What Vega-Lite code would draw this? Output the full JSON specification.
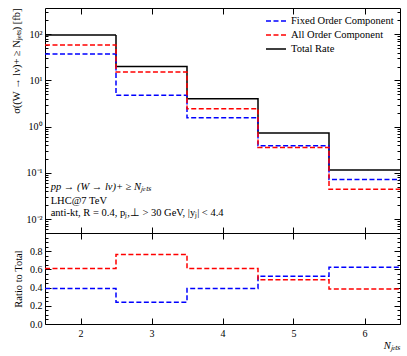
{
  "$schema": "https://vega.github.io/schema/vega-lite/v6.json",
  "padding": {"left": 10, "top": 7, "right": 7, "bottom": 5},
  "background": "white",
  "bounds": "flush",
  "config": {
    "font": "Liberation Serif",
    "view": {"stroke": "black", "strokeWidth": 1},
    "axis": {"domainColor": "black", "tickColor": "black", "labelColor": "black", "titleColor": "black", "labelFontSize": 10, "titleFontSize": 10.5, "titleFontWeight": "normal", "grid": false, "labelFont": "Liberation Serif", "titleFont": "Liberation Serif"},
    "legend": {"labelFont": "Liberation Serif", "labelFontSize": 10.5}
  },
  "datasets": {
    "hist": [
      {"series": "Total Rate", "bin": 2, "lo": 1.5, "hi": 2.5, "value": 96, "ratio": 1},
      {"series": "Total Rate", "bin": 3, "lo": 2.5, "hi": 3.5, "value": 20, "ratio": 1},
      {"series": "Total Rate", "bin": 4, "lo": 3.5, "hi": 4.5, "value": 4.0, "ratio": 1},
      {"series": "Total Rate", "bin": 5, "lo": 4.5, "hi": 5.5, "value": 0.73, "ratio": 1},
      {"series": "Total Rate", "bin": 6, "lo": 5.5, "hi": 6.5, "value": 0.115, "ratio": 1},
      {"series": "Fixed Order Component", "bin": 2, "lo": 1.5, "hi": 2.5, "value": 37.5, "ratio": 0.39},
      {"series": "Fixed Order Component", "bin": 3, "lo": 2.5, "hi": 3.5, "value": 4.8, "ratio": 0.24},
      {"series": "Fixed Order Component", "bin": 4, "lo": 3.5, "hi": 4.5, "value": 1.56, "ratio": 0.39},
      {"series": "Fixed Order Component", "bin": 5, "lo": 4.5, "hi": 5.5, "value": 0.385, "ratio": 0.525},
      {"series": "Fixed Order Component", "bin": 6, "lo": 5.5, "hi": 6.5, "value": 0.072, "ratio": 0.625},
      {"series": "All Order Component", "bin": 2, "lo": 1.5, "hi": 2.5, "value": 58.5, "ratio": 0.61},
      {"series": "All Order Component", "bin": 3, "lo": 2.5, "hi": 3.5, "value": 15.2, "ratio": 0.765},
      {"series": "All Order Component", "bin": 4, "lo": 3.5, "hi": 4.5, "value": 2.44, "ratio": 0.61},
      {"series": "All Order Component", "bin": 5, "lo": 4.5, "hi": 5.5, "value": 0.354, "ratio": 0.485},
      {"series": "All Order Component", "bin": 6, "lo": 5.5, "hi": 6.5, "value": 0.044, "ratio": 0.385}
    ],
    "notes": [
      {"line": 1, "x": 1.58, "y": 0.05, "text": "pp → (W → lν)+ ≥ Nⱼₑₜₛ"},
      {"line": 2, "x": 1.58, "y": 0.0245, "text": "LHC@7 TeV"},
      {"line": 3, "x": 1.58, "y": 0.0133, "text": "anti-kt, R = 0.4, pⱼ,⊥ > 30 GeV, |yⱼ| < 4.4"}
    ]
  },
  "vconcat": [
    {
      "width": 355,
      "height": 225,
      "layer": [
        {
          "layer": [
            {
              "data": {"name": "hist"},
              "transform": [{"fold": ["lo", "hi"], "as": ["edge", "xpos"]}],
              "mark": {"type": "line", "strokeWidth": 1.5},
              "encoding": {
                "x": {"field": "xpos", "type": "quantitative", "scale": {"domain": [1.5, 6.5], "nice": false, "zero": false},
                      "axis": {"orient": "bottom", "values": [2, 3, 4, 5, 6], "labels": false, "title": null, "tickSize": -6, "domain": false}},
                "y": {"field": "value", "type": "quantitative", "scale": {"type": "log", "domain": [0.005, 370], "nice": false},
                      "axis": {"orient": "left", "domain": false, "titleAnchor": "end", "titlePadding": 5,
                               "title": "σ((W → lν)+ ≥ Nⱼₑₜₛ) [fb]",
                               "values": [0.006, 0.007, 0.008, 0.009, 0.01, 0.02, 0.03, 0.04, 0.05, 0.06, 0.07, 0.08, 0.09, 0.1, 0.2, 0.3, 0.4, 0.5, 0.6, 0.7, 0.8, 0.9, 1, 2, 3, 4, 5, 6, 7, 8, 9, 10, 20, 30, 40, 50, 60, 70, 80, 90, 100, 200, 300],
                               "labelExpr": "datum.value == 100 ? '10²' : datum.value == 10 ? '10¹' : datum.value == 1 ? '10⁰' : datum.value == 0.1 ? '10⁻¹' : datum.value == 0.01 ? '10⁻²' : ''",
                               "tickSize": {"condition": {"test": "abs(log(datum.value)/LN10 - round(log(datum.value)/LN10)) < 0.000001", "value": -6}, "value": -3},
                               "labelPadding": 9}},
                "color": {"field": "series", "type": "nominal",
                          "scale": {"domain": ["Fixed Order Component", "All Order Component", "Total Rate"], "range": ["#0000ff", "#ff0000", "#000000"]},
                          "legend": {"title": null, "orient": "top-right", "symbolType": "stroke", "symbolSize": 400, "symbolStrokeWidth": 1.5, "offset": 6, "rowPadding": 0, "clipHeight": 14}},
                "strokeDash": {"field": "series", "type": "nominal",
                               "scale": {"domain": ["Fixed Order Component", "All Order Component", "Total Rate"], "range": [[5, 2.5], [5, 2.5], [1, 0]]},
                               "legend": {"title": null, "orient": "top-right"}},
                "order": [{"field": "bin", "type": "quantitative"}, {"field": "edge", "type": "nominal", "sort": "descending"}]
              }
            },
            {
              "data": {"name": "notes"},
              "transform": [{"filter": "datum.line == 1"}],
              "mark": {"type": "text", "align": "left", "baseline": "middle", "fontSize": 10.5, "fontStyle": "italic", "font": "Liberation Serif"},
              "encoding": {
                "x": {"field": "x", "type": "quantitative"},
                "y": {"field": "y", "type": "quantitative"},
                "text": {"field": "text"}
              }
            },
            {
              "data": {"name": "notes"},
              "transform": [{"filter": "datum.line != 1"}],
              "mark": {"type": "text", "align": "left", "baseline": "middle", "fontSize": 10.5, "font": "Liberation Serif"},
              "encoding": {
                "x": {"field": "x", "type": "quantitative"},
                "y": {"field": "y", "type": "quantitative"},
                "text": {"field": "text"}
              }
            }
          ]
        },
        {
          "data": {"name": "hist"},
          "mark": {"type": "point", "opacity": 0},
          "encoding": {
            "x": {"field": "lo", "type": "quantitative", "scale": {"domain": [1.5, 6.5], "nice": false, "zero": false},
                  "axis": {"orient": "top", "values": [2, 3, 4, 5, 6], "labels": false, "title": null, "tickSize": -6, "domain": false}},
            "y": {"field": "value", "type": "quantitative", "scale": {"type": "log", "domain": [0.005, 370], "nice": false},
                  "axis": {"orient": "right", "labels": false, "title": null, "domain": false,
                           "values": [0.006, 0.007, 0.008, 0.009, 0.01, 0.02, 0.03, 0.04, 0.05, 0.06, 0.07, 0.08, 0.09, 0.1, 0.2, 0.3, 0.4, 0.5, 0.6, 0.7, 0.8, 0.9, 1, 2, 3, 4, 5, 6, 7, 8, 9, 10, 20, 30, 40, 50, 60, 70, 80, 90, 100, 200, 300],
                           "tickSize": {"condition": {"test": "abs(log(datum.value)/LN10 - round(log(datum.value)/LN10)) < 0.000001", "value": -6}, "value": -3}}}
          }
        }
      ],
      "resolve": {"scale": {"x": "independent", "y": "independent"}}
    },
    {
      "width": 355,
      "height": 91,
      "layer": [
        {
          "data": {"name": "hist"},
          "transform": [{"filter": "datum.series != 'Total Rate'"}, {"fold": ["lo", "hi"], "as": ["edge", "xpos"]}],
          "mark": {"type": "line", "strokeWidth": 1.5},
          "encoding": {
            "x": {"field": "xpos", "type": "quantitative", "scale": {"domain": [1.5, 6.5], "nice": false, "zero": false},
                  "axis": {"orient": "bottom", "values": [2, 3, 4, 5, 6], "title": "Nⱼₑₜₛ", "titleAnchor": "end", "titleFontStyle": "italic", "tickSize": -6, "domain": false, "labelPadding": 10, "titlePadding": 2}},
            "y": {"field": "ratio", "type": "quantitative", "scale": {"domain": [0, 1], "nice": false},
                  "axis": {"orient": "left", "title": "Ratio to Total", "domain": false, "titlePadding": 6,
                           "values": [0, 0.05, 0.1, 0.15, 0.2, 0.25, 0.3, 0.35, 0.4, 0.45, 0.5, 0.55, 0.6, 0.65, 0.7, 0.75, 0.8, 0.85, 0.9, 0.95],
                           "labelExpr": "abs(datum.value*5 - round(datum.value*5)) < 0.000001 ? format(datum.value, '.1f') : ''",
                           "tickSize": {"condition": {"test": "abs(datum.value*5 - round(datum.value*5)) < 0.000001", "value": -6}, "value": -3},
                           "labelPadding": 9}},
            "color": {"field": "series", "type": "nominal",
                      "scale": {"domain": ["Fixed Order Component", "All Order Component", "Total Rate"], "range": ["#0000ff", "#ff0000", "#000000"]},
                      "legend": null},
            "strokeDash": {"field": "series", "type": "nominal",
                           "scale": {"domain": ["Fixed Order Component", "All Order Component", "Total Rate"], "range": [[5, 2.5], [5, 2.5], [1, 0]]},
                           "legend": null},
            "order": [{"field": "bin", "type": "quantitative"}, {"field": "edge", "type": "nominal", "sort": "descending"}]
          }
        },
        {
          "data": {"name": "hist"},
          "mark": {"type": "point", "opacity": 0},
          "encoding": {
            "x": {"field": "lo", "type": "quantitative", "scale": {"domain": [1.5, 6.5], "nice": false, "zero": false},
                  "axis": {"orient": "top", "values": [2, 3, 4, 5, 6], "labels": false, "title": null, "tickSize": -6, "domain": false}},
            "y": {"field": "ratio", "type": "quantitative", "scale": {"domain": [0, 1], "nice": false},
                  "axis": {"orient": "right", "labels": false, "title": null, "domain": false,
                           "values": [0, 0.05, 0.1, 0.15, 0.2, 0.25, 0.3, 0.35, 0.4, 0.45, 0.5, 0.55, 0.6, 0.65, 0.7, 0.75, 0.8, 0.85, 0.9, 0.95],
                           "tickSize": {"condition": {"test": "abs(datum.value*5 - round(datum.value*5)) < 0.000001", "value": -6}, "value": -3}}}
          }
        }
      ],
      "resolve": {"scale": {"x": "independent", "y": "independent"}}
    }
  ],
  "spacing": 0
}
